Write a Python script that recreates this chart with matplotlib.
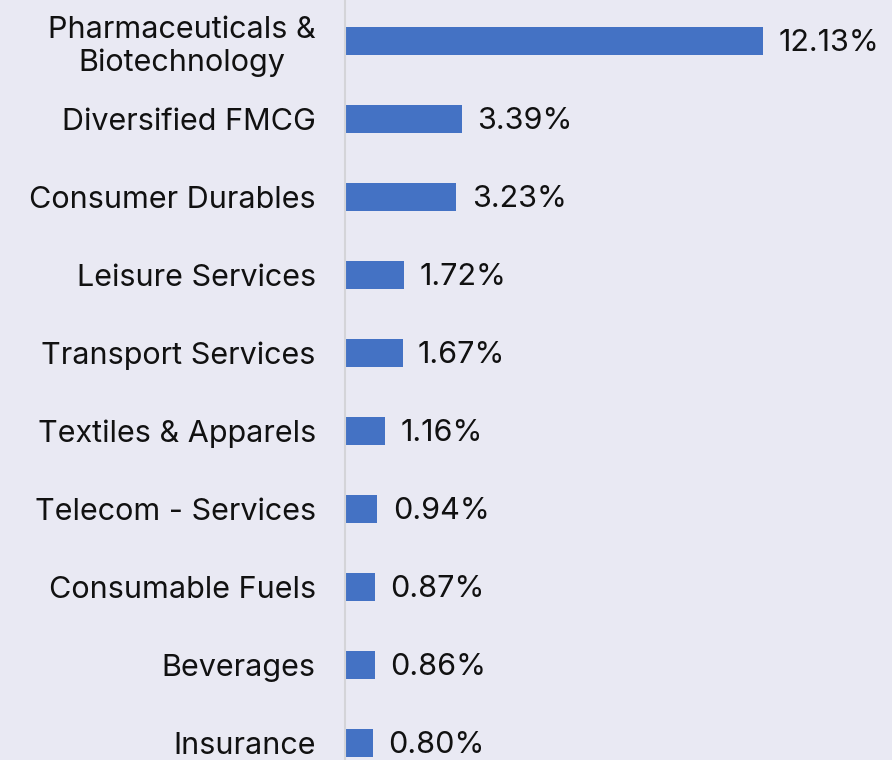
import matplotlib.pyplot as plt

plt.rcParams["font.family"] = ["Inter", "DejaVu Sans"]

# sector allocation (%)
sectors = [
    "Pharmaceuticals &\nBiotechnology",
    "Diversified FMCG",
    "Consumer Durables",
    "Leisure Services",
    "Transport Services",
    "Textiles & Apparels",
    "Telecom - Services",
    "Consumable Fuels",
    "Beverages",
    "Insurance",
]
weights = [12.13, 3.39, 3.23, 1.72, 1.67, 1.16, 0.94, 0.87, 0.86, 0.80]

bg = "#E9E9F3"
bar_color = "#4472C4"

fig = plt.figure(figsize=(8.92, 7.6), dpi=100, facecolor=bg)
ax = fig.add_axes([345 / 892, 0, 1 - 345 / 892, 1], facecolor=bg)

ypos = list(range(len(sectors)))
ax.barh(ypos, weights, height=0.36, color=bar_color)

for y, w in zip(ypos, weights):
    ax.text(w + 0.45, y + 0.03, f"{w:.2f}%", va="center", ha="left",
            fontsize=22, color="#111111")

ax.set_xlim(0, (892 - 345) / 34.46)
ax.set_ylim(9 + 17 / 78, -41 / 78)
ax.set_yticks(ypos)
labels = ax.set_yticklabels(sectors, fontsize=22, color="#111111", linespacing=1.2)
for lbl in labels:
    lbl.set_multialignment("center")
ax.tick_params(axis="y", length=0, pad=21)
ax.set_xticks([])

for side in ["top", "right", "bottom"]:
    ax.spines[side].set_visible(False)
ax.spines["left"].set_color("#D4D4D8")
ax.spines["left"].set_linewidth(1.5)

fig.savefig("out.png", dpi=100, facecolor=bg)
